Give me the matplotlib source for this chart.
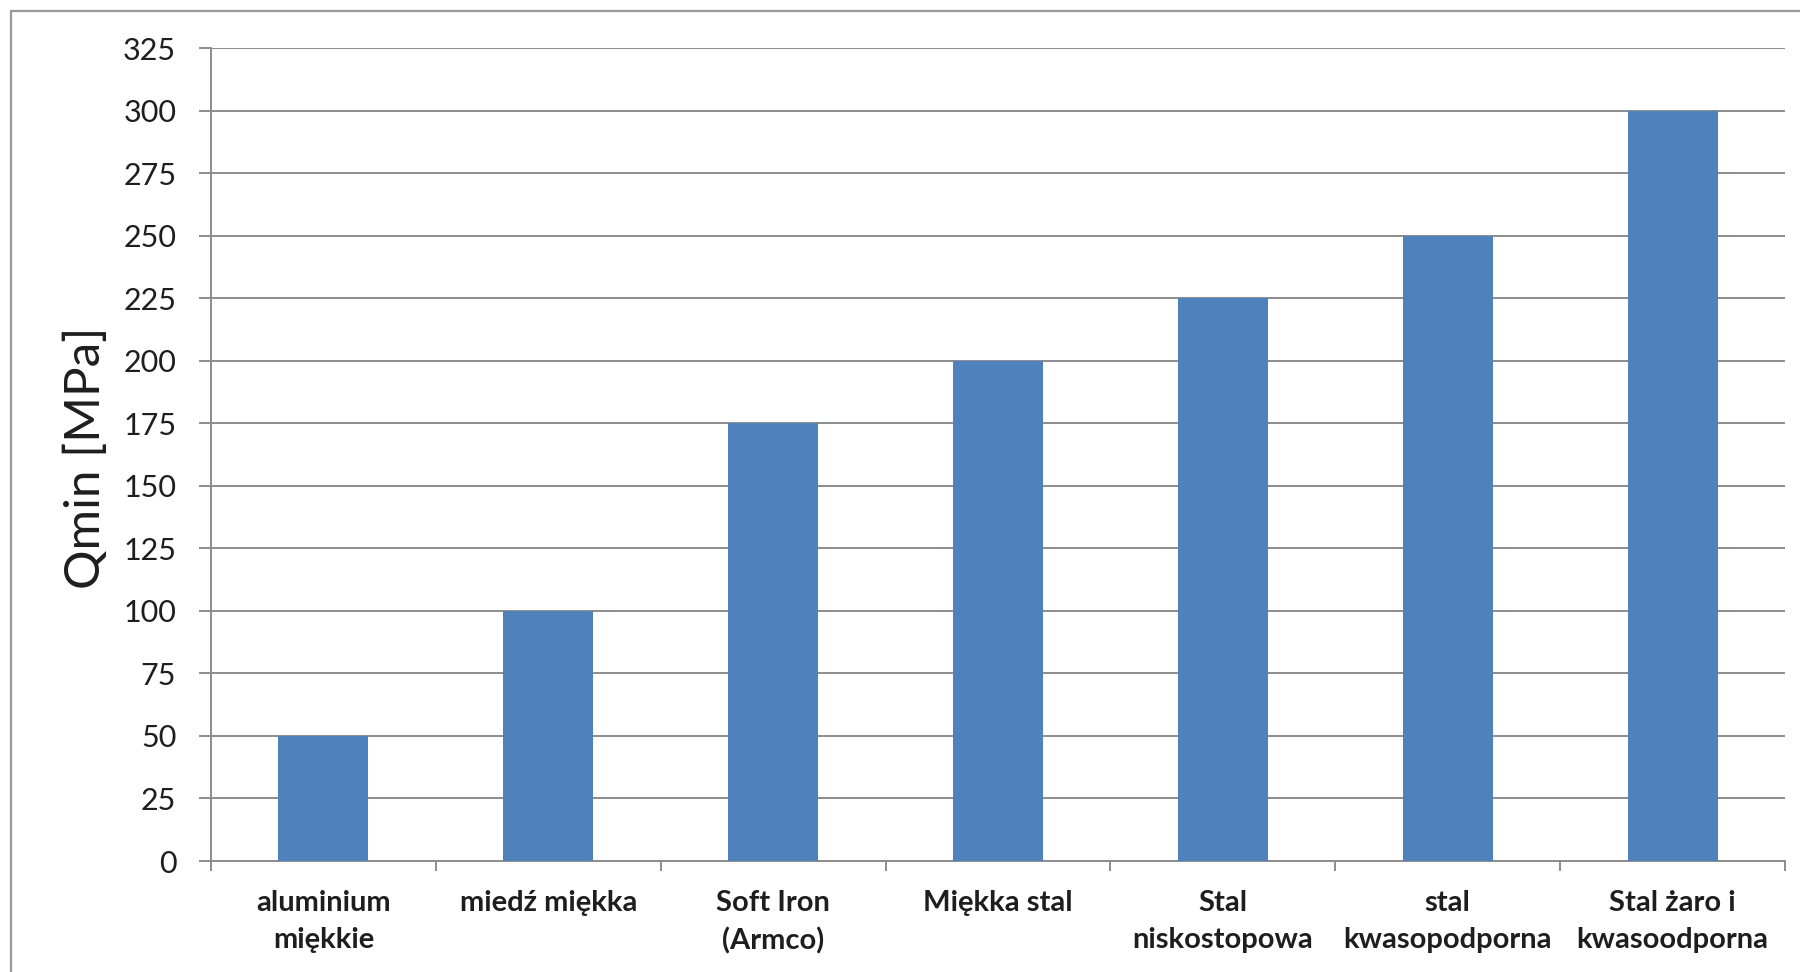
import matplotlib
matplotlib.use("Agg")
import matplotlib.pyplot as plt
from matplotlib.patches import Rectangle
import numpy as np

# ========= data =========

categories = [
    "aluminium\nmiękkie",
    "miedź miękka",
    "Soft Iron\n(Armco)",
    "Miękka stal",
    "Stal\nniskostopowa",
    "stal\nkwasopodporna",
    "Stal żaro i\nkwasoodporna",
]
qmin_mpa = [50, 100, 175, 200, 225, 250, 300]
y_ticks = list(range(0, 326, 25))

# ========= style =========

plt.rcParams["font.family"] = ["Lato", "DejaVu Sans"]
BAR_COLOR = "#4F81BD"
GRID_COLOR = "#8C8C8C"
TEXT_COLOR = "#1E1E1E"
DPI = 200

fig = plt.figure(figsize=(9.0, 4.86), dpi=DPI)
ax = fig.add_axes([211 / 1800, 1 - 861 / 972, (1785 - 211) / 1800, (861 - 48) / 972])

x = np.arange(len(categories))
ax.bar(x, qmin_mpa, width=0.4, color=BAR_COLOR, zorder=3)

ax.set_xlim(-0.5, len(categories) - 0.5)
ax.set_ylim(0, 325)
ax.set_yticks(y_ticks)
ax.yaxis.grid(True, color=GRID_COLOR, linewidth=0.7, zorder=0)
ax.set_axisbelow(True)

# category labels on major ticks, tick marks at the category boundaries
ax.set_xticks(x)
ax.set_xticklabels(categories, fontsize=10.5, fontweight="bold", color=TEXT_COLOR,
                   linespacing=1.5)
ax.set_xticks(np.arange(-0.5, len(categories), 1.0), minor=True)
ax.tick_params(axis="x", which="major", length=0, pad=10.5)
ax.tick_params(axis="x", which="minor", length=3.6, width=0.7, color=GRID_COLOR,
               direction="out")
ax.tick_params(axis="y", length=4.5, width=0.7, color=GRID_COLOR, pad=8,
               labelsize=11, labelcolor=TEXT_COLOR)

for side in ("top", "right"):
    ax.spines[side].set_visible(False)
for side in ("left", "bottom"):
    ax.spines[side].set_color(GRID_COLOR)
    ax.spines[side].set_linewidth(0.7)

ax.set_ylabel("Qmin [MPa]", fontsize=17.8, color=TEXT_COLOR, va="center")
ax.yaxis.set_label_coords(-(211 - 86) / (1785 - 211), (861 - 458) / (861 - 48))

# outer chart-area border (cut off at right and bottom like the original)
fig.patches.append(Rectangle((11 / 1800, -0.05), 1.2, 1 - 11 / 972 + 0.05,
                             transform=fig.transFigure, fill=False,
                             edgecolor="#9A9A9A", linewidth=0.8))

fig.savefig("out.png", dpi=DPI)
